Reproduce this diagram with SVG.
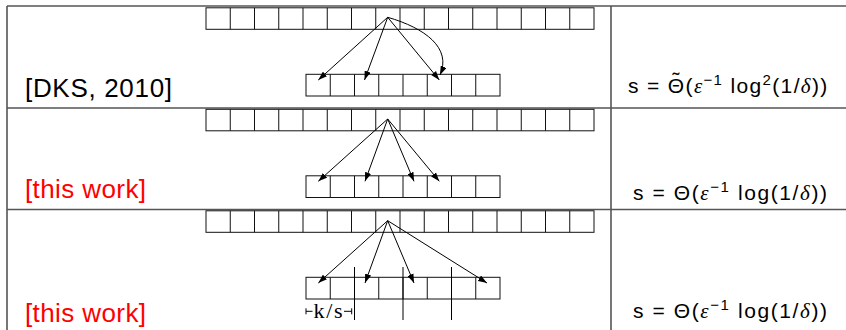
<svg xmlns="http://www.w3.org/2000/svg" xmlns:xlink="http://www.w3.org/1999/xlink" width="846" height="330" viewBox="0 0 846 330">
  <style>
    .grid { stroke: #555; stroke-width: 1.6; fill: none; }
    .cells { stroke: #111; stroke-width: 1; fill: #fff; }
    .arr { stroke: #000; stroke-width: 1; fill: none; marker-end: url(#ah); }
    .tick { stroke: #000; stroke-width: 1; fill: none; }
    .lbl { font-family: "Liberation Sans", "DejaVu Sans", sans-serif; font-size: 26px; }
    .red { fill: #ff0000; }
    .f { font-family: "Liberation Sans", "DejaVu Sans", sans-serif; font-size: 21px; fill: #000; }
    .m { font-family: "Liberation Serif", serif; font-style: italic; }
    .sup { font-size: 15px; }
    .ks { font-family: "Liberation Serif", "Times New Roman", serif; font-size: 22px; }
  </style>
  <defs>
    <marker id="ah" viewBox="0 0 10 7" markerUnits="userSpaceOnUse" markerWidth="9" markerHeight="6.5" refX="10" refY="3.5" orient="auto">
      <path d="M0,0 L10,3.5 L0,7 Z" fill="#000"/>
    </marker>
    <g id="topArray">
      <rect class="cells" x="206" y="0" width="388" height="21.5"/>
      <path class="cells" d="M230.25,0v21.5M254.5,0v21.5M278.75,0v21.5M303,0v21.5M327.25,0v21.5M351.5,0v21.5M375.75,0v21.5M400,0v21.5M424.25,0v21.5M448.5,0v21.5M472.75,0v21.5M497,0v21.5M521.25,0v21.5M545.5,0v21.5M569.75,0v21.5"/>
    </g>
    <g id="botArray">
      <rect class="cells" x="306" y="0" width="194" height="21.7"/>
      <path class="cells" d="M330.25,0v21.7M354.5,0v21.7M378.75,0v21.7M403,0v21.7M427.25,0v21.7M451.5,0v21.7M475.75,0v21.7"/>
    </g>
  </defs>
  <rect width="846" height="330" fill="#fff"/>

  <g id="table">
    <path class="grid" d="M7,6H846M7,6V330M611,6V330M7,108H846M7,209.5H846"/>
  </g>

  <g id="row1">
    <g id="r1-top"><use xlink:href="#topArray" href="#topArray" transform="translate(0,7.8)"/></g>
    <g id="r1-bottom"><use xlink:href="#botArray" href="#botArray" transform="translate(0,74.3)"/></g>
    <g id="r1-label"><text class="lbl" x="25" y="97" textLength="147" lengthAdjust="spacing">[DKS, 2010]</text></g>
    <g id="r1-formula">
      <text class="f" x="628" y="93" letter-spacing="1.35">s = Θ(<tspan class="m">ε</tspan><tspan class="sup" dy="-8">−1</tspan><tspan dy="8"> log</tspan><tspan class="sup" dy="-8">2</tspan><tspan dy="8">(1/</tspan><tspan class="m">δ</tspan>))<tspan x="676" y="87" text-anchor="middle" letter-spacing="0">˜</tspan></text>
    </g>
  </g>

  <g id="row2">
    <g id="r2-top"><use xlink:href="#topArray" href="#topArray" transform="translate(0,109.3)"/></g>
    <g id="r2-bottom"><use xlink:href="#botArray" href="#botArray" transform="translate(0,175.8)"/></g>
    <g id="r2-label"><text class="lbl red" x="25" y="198" textLength="121" lengthAdjust="spacing">[this work]</text></g>
    <g id="r2-formula">
      <text class="f" x="633" y="200" textLength="194" lengthAdjust="spacing">s = Θ(<tspan class="m">ε</tspan><tspan class="sup" dy="-8">−1</tspan><tspan dy="8"> log(1/</tspan><tspan class="m">δ</tspan>))</text>
    </g>
  </g>

  <g id="row3">
    <g id="r3-top"><use xlink:href="#topArray" href="#topArray" transform="translate(0,210.8)"/></g>
    <g id="r3-bottom"><use xlink:href="#botArray" href="#botArray" transform="translate(0,277.3)"/></g>
    <g id="r3-label"><text class="lbl red" x="25" y="322" textLength="121" lengthAdjust="spacing">[this work]</text></g>
    <g id="r3-formula">
      <text class="f" x="633" y="318" textLength="194" lengthAdjust="spacing">s = Θ(<tspan class="m">ε</tspan><tspan class="sup" dy="-8">−1</tspan><tspan dy="8"> log(1/</tspan><tspan class="m">δ</tspan>))</text>
    </g>
    <g id="r3-blocks">
      <path class="tick" d="M354.5,267V320M403,267V320M451.5,267V320"/>
      <path class="tick" d="M306,308.3V314.3M306,311.3H312.5M344,311.3H351.7M351.7,308.3V314.3"/>
      <text class="ks" x="313.5" y="318" textLength="29" lengthAdjust="spacing">k/s</text>
    </g>
  </g>

  <g id="connectors">
    <path class="arr" d="M387.7,17.3L318.3,80"/>
    <path class="arr" d="M387.7,17.3L364.5,80"/>
    <path class="arr" d="M387.7,17.3L439.3,80"/>
    <path class="arr" d="M387.7,17.3C425,28 452,48 440,75"/>

    <path class="arr" d="M387.7,119L318.3,181.3"/>
    <path class="arr" d="M387.7,119L365,181.3"/>
    <path class="arr" d="M387.7,119L414,181.3"/>
    <path class="arr" d="M387.7,119L439.3,181.3"/>

    <path class="arr" d="M387.7,220.7L318.3,283"/>
    <path class="arr" d="M387.7,220.7L365,283"/>
    <path class="arr" d="M387.7,220.7L414,283"/>
    <path class="arr" d="M387.7,220.7L487,283"/>
  </g>
</svg>
